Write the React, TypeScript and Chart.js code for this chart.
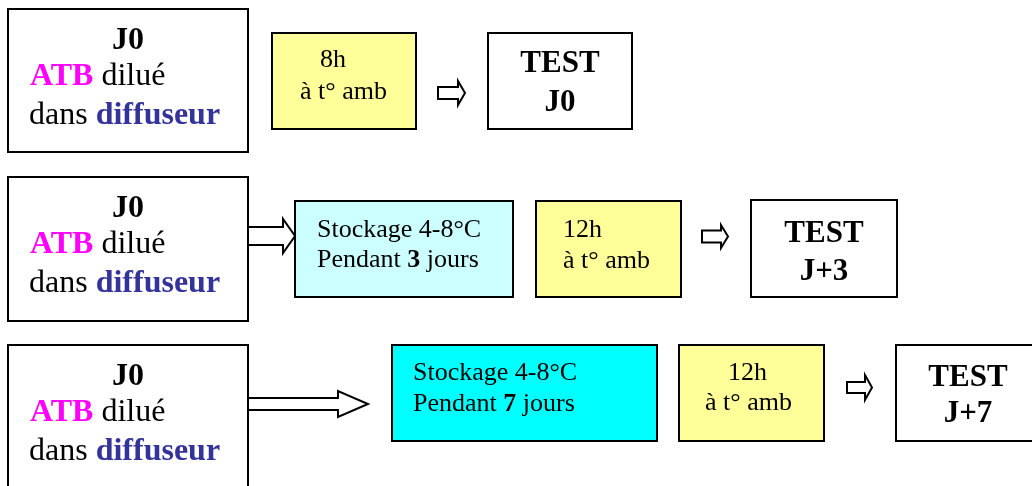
import React, { useEffect, useRef } from "react";
import { Chart, registerables } from "chart.js";

Chart.register(...registerables);

// ---- Diagram data ----
const rowNames = ["J0", "J+3", "J+7"];
const storageDays = ["", "3", "7"];
const ambientHours = ["8h", "12h", "12h"];

// Boxes (in scale units: x 0..1032, y 0..486 top-down)
const boxX0 = [8, 272, 488, 8, 295, 536, 751, 8, 392, 679, 896];
const boxX1 = [248, 416, 632, 248, 513, 681, 897, 248, 657, 824, 1041];
const boxY0 = [9, 33, 33, 177, 201, 201, 200, 345, 345, 345, 345];
const boxY1 = [152, 129, 129, 321, 297, 297, 297, 489, 441, 441, 441];
const boxFill = ["#ffffff", "#ffff99", "#ffffff", "#ffffff", "#ccffff", "#ffff99", "#ffffff", "#ffffff", "#00ffff", "#ffff99", "#ffffff"];

// Hollow arrows: start, end, head base, center y, shaft half-height, head half-height
const arrX0 = [438, 248, 702, 248, 847];
const arrX1 = [465, 295, 728, 368, 872];
const arrHead = [458, 283, 721, 338, 865];
const arrY = [93, 236, 236.5, 404, 387.5];
const arrShaft = [6, 9, 6, 6, 5.5];
const arrHeadH = [12, 17, 11.5, 13, 12.5];

const MAGENTA = "#ff00ff";
const NAVY = "#333399";
const SERIF = "'Liberation Serif', 'DejaVu Serif', serif";

type Run = { t: string; b?: boolean; c?: string };
type Line = { x: number; y: number; align: "left" | "center"; size: number; runs: Run[] };

function buildLines(): Line[] {
  const lines: Line[] = [];
  const offs = [0, 168, 336];
  offs.forEach((o) => {
    lines.push({ x: 128, y: 49 + o, align: "center", size: 32, runs: [{ t: "J0", b: true }] });
    lines.push({ x: 30, y: 85 + o, align: "left", size: 32, runs: [{ t: "ATB", b: true, c: MAGENTA }, { t: " dilué" }] });
    lines.push({ x: 29, y: 124 + o, align: "left", size: 32, runs: [{ t: "dans " }, { t: "diffuseur", b: true, c: NAVY }] });
  });
  // Row 1
  lines.push({ x: 320, y: 67, align: "left", size: 26, runs: [{ t: ambientHours[0] }] });
  lines.push({ x: 300, y: 99, align: "left", size: 26, runs: [{ t: "à t° amb" }] });
  lines.push({ x: 560, y: 72, align: "center", size: 31, runs: [{ t: "TEST", b: true }] });
  lines.push({ x: 560, y: 111, align: "center", size: 31, runs: [{ t: rowNames[0], b: true }] });
  // Row 2
  lines.push({ x: 317, y: 237, align: "left", size: 26, runs: [{ t: "Stockage 4-8°C" }] });
  lines.push({ x: 317, y: 267, align: "left", size: 26, runs: [{ t: "Pendant " }, { t: storageDays[1], b: true }, { t: " jours" }] });
  lines.push({ x: 563, y: 237, align: "left", size: 26, runs: [{ t: ambientHours[1] }] });
  lines.push({ x: 563, y: 268, align: "left", size: 26, runs: [{ t: "à t° amb" }] });
  lines.push({ x: 824, y: 242, align: "center", size: 31, runs: [{ t: "TEST", b: true }] });
  lines.push({ x: 824, y: 280, align: "center", size: 31, runs: [{ t: rowNames[1], b: true }] });
  // Row 3
  lines.push({ x: 413, y: 380, align: "left", size: 26, runs: [{ t: "Stockage 4-8°C" }] });
  lines.push({ x: 413, y: 411, align: "left", size: 26, runs: [{ t: "Pendant " }, { t: storageDays[2], b: true }, { t: " jours" }] });
  lines.push({ x: 728, y: 380, align: "left", size: 26, runs: [{ t: ambientHours[2] }] });
  lines.push({ x: 705, y: 410, align: "left", size: 26, runs: [{ t: "à t° amb" }] });
  lines.push({ x: 968, y: 386, align: "center", size: 31, runs: [{ t: "TEST", b: true }] });
  lines.push({ x: 968, y: 422, align: "center", size: 31, runs: [{ t: rowNames[2], b: true }] });
  return lines;
}

const diagramPlugin = {
  id: "diagram",
  afterDraw(chart: any) {
    const ctx: CanvasRenderingContext2D = chart.ctx;
    const xs = chart.scales.x;
    const ys = chart.scales.y;
    const px = (v: number) => xs.getPixelForValue(v);
    const py = (v: number) => ys.getPixelForValue(v);
    ctx.save();
    // boxes
    for (let i = 0; i < boxX0.length; i++) {
      const x0 = px(boxX0[i]);
      const x1 = px(boxX1[i]);
      const y0 = py(boxY0[i]);
      const y1 = py(boxY1[i]);
      ctx.fillStyle = boxFill[i];
      ctx.fillRect(x0, y0, x1 - x0, y1 - y0);
      ctx.strokeStyle = "#000000";
      ctx.lineWidth = 2;
      ctx.strokeRect(x0, y0, x1 - x0, y1 - y0);
    }
    // arrows
    for (let i = 0; i < arrX0.length; i++) {
      const a = px(arrX0[i]);
      const b = px(arrX1[i]);
      const h = px(arrHead[i]);
      const cy = py(arrY[i]);
      const s = arrShaft[i];
      const hh = arrHeadH[i];
      ctx.beginPath();
      ctx.moveTo(a, cy - s);
      ctx.lineTo(h, cy - s);
      ctx.lineTo(h, cy - hh);
      ctx.lineTo(b, cy);
      ctx.lineTo(h, cy + hh);
      ctx.lineTo(h, cy + s);
      ctx.lineTo(a, cy + s);
      ctx.closePath();
      ctx.fillStyle = "#ffffff";
      ctx.fill();
      ctx.lineWidth = 2;
      ctx.lineJoin = "miter";
      ctx.strokeStyle = "#000000";
      ctx.stroke();
    }
    // text
    ctx.textBaseline = "alphabetic";
    ctx.textAlign = "left";
    const lines = buildLines();
    for (const ln of lines) {
      const fontOf = (r: Run) => `${r.b ? "bold " : ""}${ln.size}px ${SERIF}`;
      let total = 0;
      for (const r of ln.runs) {
        ctx.font = fontOf(r);
        total += ctx.measureText(r.t).width;
      }
      let x = px(ln.x);
      if (ln.align === "center") x -= total / 2;
      const y = py(ln.y);
      for (const r of ln.runs) {
        ctx.font = fontOf(r);
        ctx.fillStyle = r.c || "#000000";
        ctx.fillText(r.t, x, y);
        x += ctx.measureText(r.t).width;
      }
    }
    ctx.restore();
  },
};

export default function App() {
  const ref = useRef<HTMLCanvasElement | null>(null);
  useEffect(() => {
    if (!ref.current) return;
    const chart = new Chart(ref.current, {
      type: "scatter",
      data: { datasets: [{ data: [], pointRadius: 0 }] },
      options: {
        animation: false,
        responsive: true,
        maintainAspectRatio: false,
        layout: { padding: 0 },
        plugins: { legend: { display: false }, tooltip: { enabled: false } },
        scales: {
          x: { type: "linear", min: 0, max: 1032, display: false },
          y: { type: "linear", min: 0, max: 486, reverse: true, display: false },
        },
      },
      plugins: [diagramPlugin],
    });
    return () => chart.destroy();
  }, []);
  return (
    <div style={{ position: "fixed", left: 0, top: 0, width: 1032, height: 486, background: "#ffffff" }}>
      <canvas ref={ref} />
    </div>
  );
}
